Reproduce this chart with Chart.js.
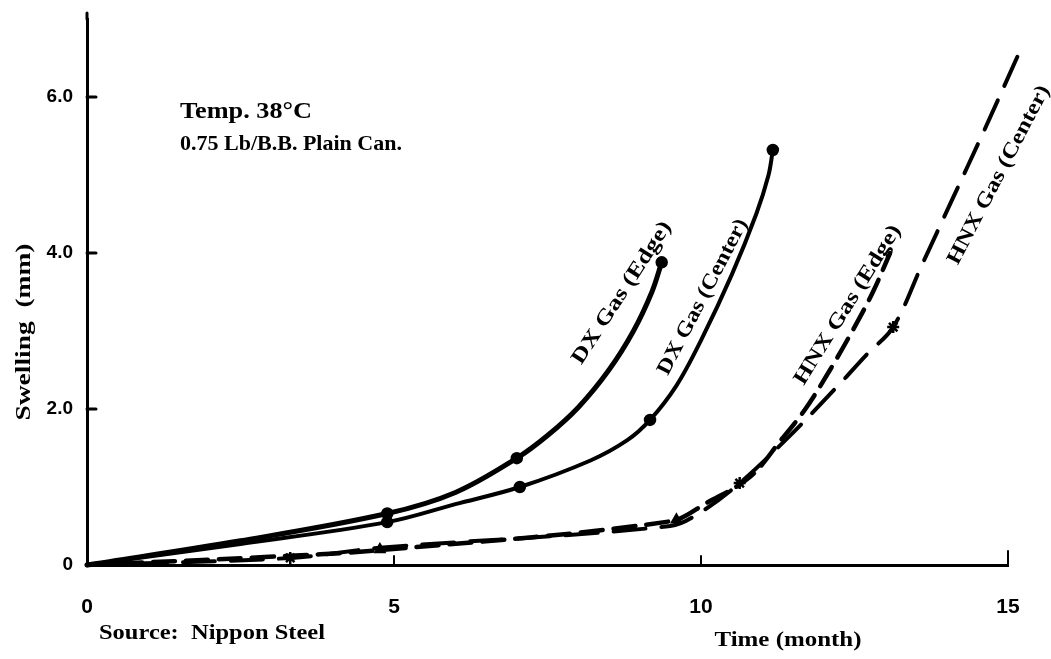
<!DOCTYPE html>
<html>
<head>
<meta charset="utf-8">
<script src="https://cdn.jsdelivr.net/npm/chart.js@4.4.1/dist/chart.umd.min.js"></script>
<style>
  html,body{margin:0;padding:0;background:#fff;}
  canvas{display:block;}
</style>
</head>
<body>
<canvas id="c" width="1051" height="659"></canvas>
<script>
// ---- data ----
const xTicks = [0, 5, 10, 15];
const yTicks = [0, 2, 4, 6];
const yTickLabels = ['0', '2.0', '4.0', '6.0'];

// DX Gas (Edge) – solid curve
const dxEdgeX = [0, 2.5, 4.89, 6.0, 7.0, 7.5, 8.0, 8.5, 8.9, 9.2, 9.36];
const dxEdgeY = [0, 0.31, 0.66, 0.93, 1.37, 1.66, 2.02, 2.5, 3.0, 3.5, 3.88];
const dxEdgePtsX = [4.89, 7.0, 9.36];
const dxEdgePtsY = [0.66, 1.37, 3.88];

// DX Gas (Center) – solid curve
const dxCenterX = [0, 2.5, 4.89, 6.0, 7.05, 8.2, 8.8, 9.17, 9.6, 10.0, 10.5, 10.9, 11.1, 11.17];
const dxCenterY = [0, 0.27, 0.55, 0.78, 1.0, 1.34, 1.6, 1.86, 2.3, 2.88, 3.72, 4.5, 5.0, 5.32];
const dxCenterPtsX = [4.89, 7.05, 9.17, 11.17];
const dxCenterPtsY = [0.55, 1.0, 1.86, 5.32];

// HNX Gas (Edge) – dashed curve
const hnxEdgeX = [0, 2.82, 4.77, 9.5, 10.1, 10.8, 11.3, 11.7, 12.1, 12.5, 12.8, 13.08];
const hnxEdgeY = [0, 0.10, 0.19, 0.56, 0.8, 1.13, 1.6, 2.0, 2.5, 3.05, 3.5, 4.0];
const hnxEdgePtsX = [4.77, 9.6];
const hnxEdgePtsY = [0.2, 0.58];

// HNX Gas (Center) – dashed curve
const hnxCenterX = [0, 3.31, 4.77, 9.5, 10.0, 10.63, 11.4, 12.21, 12.7, 13.13, 13.6, 14.1, 14.6, 15.2];
const hnxCenterY = [0, 0.09, 0.22, 0.5, 0.68, 1.05, 1.62, 2.28, 2.7, 3.05, 3.85, 4.7, 5.55, 6.6];
const hnxCenterPtsX = [3.31, 10.63, 13.13];
const hnxCenterPtsY = [0.09, 1.05, 3.05];
const hnxCenterEndX = [15.2];
const hnxCenterEndY = [6.6];

const pts = (xs, ys) => xs.map((x, i) => ({x, y: ys[i]}));

const lineDs = (xs, ys, width, dash) => ({
  data: pts(xs, ys), showLine: true, borderColor: '#000', backgroundColor: '#000',
  borderWidth: width, borderDash: dash, pointRadius: 0, tension: 0.35,
  borderCapStyle: 'round', clip: false, order: 2
});
const markDs = (xs, ys, style, r) => ({
  data: pts(xs, ys), showLine: false, pointStyle: style, pointRadius: r,
  pointBorderColor: '#000', pointBackgroundColor: '#000', pointBorderWidth: 2.5, clip: false, order: 1
});

const SERIF = '"Liberation Serif", "DejaVu Serif", serif';
const SANS = '"Liberation Sans Narrow", "Liberation Sans", Arial, sans-serif';

function fitText(ctx, str, cx, cy, size, width, angleDeg, family) {
  ctx.save();
  ctx.font = 'bold ' + size + 'px ' + family;
  const w = ctx.measureText(str).width;
  ctx.translate(cx, cy);
  ctx.rotate(angleDeg * Math.PI / 180);
  ctx.scale(width / w, 1);
  ctx.textAlign = 'center';
  ctx.textBaseline = 'middle';
  ctx.fillStyle = '#000';
  ctx.fillText(str, 0, 0);
  ctx.restore();
}

const decor = {
  id: 'decor',
  afterDraw(chart) {
    const ctx = chart.ctx, xs = chart.scales.x, ys = chart.scales.y;
    const a = chart.chartArea;
    ctx.save();
    ctx.strokeStyle = '#000';
    ctx.lineWidth = 3;
    ctx.lineCap = 'round';
    ctx.beginPath(); ctx.moveTo(a.left, a.top); ctx.lineTo(a.left, a.top - 6); ctx.stroke();
    yTicks.slice(1).forEach(v => {
      const y = ys.getPixelForValue(v);
      ctx.beginPath(); ctx.moveTo(a.left, y); ctx.lineTo(a.left + 9, y); ctx.stroke();
    });
    ctx.lineWidth = 2;
    xTicks.slice(1).forEach(v => {
      const x = xs.getPixelForValue(v);
      ctx.beginPath(); ctx.moveTo(x, a.bottom); ctx.lineTo(x, a.bottom - (v === 15 ? 14 : 9)); ctx.stroke();
    });
    ctx.restore();

    fitText(ctx, 'Temp. 38°C', 246, 112, 24, 132, 0, SERIF);
    fitText(ctx, '0.75 Lb/B.B. Plain Can.', 291, 145, 21, 222, 0, SERIF);
    fitText(ctx, 'Source:  Nippon Steel', 212, 633, 22, 226, 0, SERIF);
    fitText(ctx, 'Time (month)', 788, 640, 22, 147, 0, SERIF);
    fitText(ctx, 'Swelling  (mm)', 25, 332, 20, 177, -90, SERIF);
    fitText(ctx, 'DX Gas (Edge)', 622, 293, 21, 166, -57, SERIF);
    fitText(ctx, 'DX Gas (Center)', 703, 297, 21, 173, -62.4, SERIF);
    fitText(ctx, 'HNX Gas (Edge)', 848, 305, 21, 184, -58, SERIF);
    fitText(ctx, 'HNX Gas (Center)', 999, 175, 21, 199, -62.4, SERIF);
  }
};

new Chart(document.getElementById('c'), {
  type: 'scatter',
  data: {
    datasets: [
      lineDs(dxEdgeX, dxEdgeY, 5, []),
      lineDs(dxCenterX, dxCenterY, 4, []),
      lineDs(hnxEdgeX, hnxEdgeY, 4.5, [22, 11]),
      lineDs(hnxCenterX, hnxCenterY, 4, [32, 16]),
      markDs(dxEdgePtsX, dxEdgePtsY, 'circle', 5),
      markDs(dxCenterPtsX, dxCenterPtsY, 'circle', 5),
      markDs(hnxEdgePtsX, hnxEdgePtsY, 'triangle', 5),
      markDs(hnxCenterPtsX, hnxCenterPtsY, 'star', 6),
      markDs(hnxCenterEndX, hnxCenterEndY, 'crossRot', 6)
    ]
  },
  options: {
    responsive: false,
    animation: false,
    devicePixelRatio: 1,
    layout: { padding: { top: 19, right: 43, left: 0, bottom: 0 } },
    plugins: { legend: { display: false }, tooltip: { enabled: false } },
    scales: {
      x: {
        type: 'linear', min: 0, max: 15,
        afterBuildTicks: s => { s.ticks = xTicks.map(v => ({ value: v })); },
        afterFit: s => { s.height = 94; },
        grid: { display: false },
        border: { display: true, color: '#000', width: 3 },
        ticks: { color: '#000', padding: 22, maxRotation: 0, autoSkip: false,
                 font: { family: SANS, size: 21, weight: 'bold' } }
      },
      y: {
        type: 'linear', min: 0, max: 7,
        afterBuildTicks: s => { s.ticks = yTicks.map(v => ({ value: v })); },
        afterFit: s => { s.width = 87; },
        grid: { display: false },
        border: { display: true, color: '#000', width: 3 },
        ticks: { color: '#000', padding: 6, autoSkip: false,
                 callback: v => yTickLabels[yTicks.indexOf(v)],
                 font: { family: SANS, size: 19, weight: 'bold' } }
      }
    }
  },
  plugins: [decor]
});
</script>
</body>
</html>
